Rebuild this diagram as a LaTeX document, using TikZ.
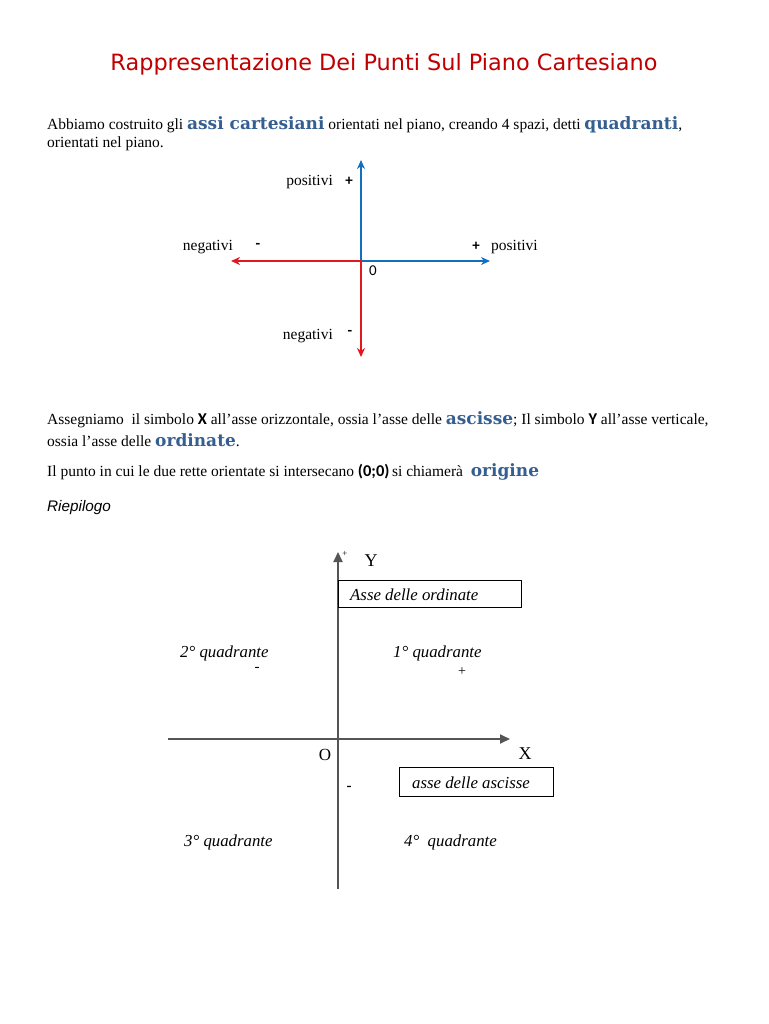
\documentclass[tikz,border=0pt]{standalone}
\usepackage{fontspec}
\setmainfont{Liberation Serif}
\newfontfamily\titlefont{DejaVu Sans}
\newfontfamily\bluefont{DejaVu Serif}
\newfontfamily\calib{Carlito}
\newfontfamily\arialf{Liberation Sans}
\usetikzlibrary{arrows.meta}
\definecolor{titlered}{RGB}{192,0,0}
\definecolor{kwblue}{RGB}{54,95,145}
\definecolor{axblue}{RGB}{20,110,190}
\definecolor{axred}{RGB}{225,25,30}
\definecolor{axgray}{RGB}{85,85,85}
\newcommand\kw[1]{{\bluefont\bfseries\color{kwblue}\fontsize{17}{18}\selectfont #1}}
\newcommand\bsans[1]{{\calib\bfseries\fontsize{16.5}{18}\selectfont #1}}
\begin{document}
\begin{tikzpicture}[x=1pt,y=-1pt,
  txt/.style={anchor=base west, inner sep=0, font=\fontsize{15.5}{18}\selectfont},
  lbl/.style={inner sep=0, font=\fontsize{15.5}{17}\selectfont},
  sgn/.style={inner sep=0, font=\calib\bfseries\fontsize{15}{17}\selectfont},
  itl/.style={inner sep=0, anchor=base west, font=\itshape\fontsize{16.8}{18}\selectfont},
  tipS/.style={-{Stealth[length=9pt,width=8pt]}},
  bluax/.style={draw=axblue, line width=1.7pt, tipS},
  redax/.style={draw=axred, line width=1.7pt, tipS},
  grayax/.style={draw=axgray, line width=1.8pt, -{Triangle[length=10pt,width=9pt]}},
  lbox/.style={draw=black, line width=0.9pt, minimum width=#1, inner sep=0, minimum height=27pt},
]
\useasboundingbox (0,0) rectangle (768,1024);
\fill[white] (0,0) rectangle (768,1024);

% title
\node[inner sep=0, text=titlered, font=\titlefont\fontsize{22.4}{26}\selectfont] (title) at (384,64) {Rappresentazione Dei Punti Sul Piano Cartesiano};

% intro text
\node[txt] (l1) at (47,130) {Abbiamo costruito gli \kw{assi cartesiani} orientati nel piano, creando 4 spazi, detti \kw{quadranti},};
\node[txt] (l2) at (47,148) {orientati nel piano.};

% first diagram
\coordinate (O1) at (361,261);
\coordinate (Yt) at (361,160);
\coordinate (Yb) at (361,357);
\coordinate (Xl) at (231,261);
\coordinate (Xr) at (490,261);
\draw[bluax] (O1) -- (Yt);
\draw[bluax] (O1) -- (Xr);
\draw[redax] (O1) -- (Yb);
\draw[redax] (O1) -- (Xl);

\node[lbl, anchor=base east] (pt) at (333,186) {positivi};
\node[sgn] (pts) at (349,181) {+};
\node[lbl, anchor=base east] (nl) at (233,250) {negativi};
\node[sgn] (nls) at (258,246) {-};
\node[sgn] (prs) at (476,246) {+};
\node[lbl, anchor=base west] (pr) at (491,250) {positivi};
\node[inner sep=0, font=\calib\fontsize{15}{17}\selectfont] (zero) at (373,271) {0};
\node[lbl, anchor=base east] (nb) at (333,339) {negativi};
\node[sgn] (nbs) at (350,333) {-};

% second text block
\node[txt] (p1) at (47,424) {Assegniamo\ \ il simbolo \bsans{X} all'asse orizzontale, ossia l'asse delle \kw{ascisse}; Il simbolo \bsans{Y} all'asse verticale,};
\node[txt] (p2) at (47,446) {ossia l'asse delle \kw{ordinate}.};
\node[txt] (p3) at (47,476) {Il punto in cui le due rette orientate si intersecano \bsans{(0;0)}\,si chiamerà\ \ \kw{origine}};
\node[inner sep=0, anchor=base west, font=\arialf\itshape\fontsize{15.3}{18}\selectfont] (riep) at (47,511) {Riepilogo};

% second diagram
\coordinate (O2) at (338,739);
\coordinate (Y2t) at (338,552);
\coordinate (Y2b) at (338,889);
\coordinate (X2l) at (168,739);
\coordinate (X2r) at (510,739);
\draw[draw=axgray, line width=1.8pt] (Y2b) -- (O2);
\draw[grayax] (O2) -- (Y2t);
\draw[grayax] (X2l) -- (O2) -- (X2r);

\node[inner sep=0, font=\fontsize{9}{10}\selectfont] (yplus) at (345,554) {+};
\node[inner sep=0, font=\fontsize{18}{20}\selectfont] (ylab) at (371,561) {Y};
\node[lbox=183pt, anchor=north west] (box1) at (338,580) {};
\node[itl] (ord) at (350,600) {Asse delle ordinate};

\node[itl] (q2) at (180,657) {2° quadrante};
\node[inner sep=0, font=\fontsize{15}{16}\selectfont] (q2s) at (257,669) {-};
\node[itl] (q1) at (393,657) {1° quadrante};
\node[inner sep=0, font=\fontsize{14}{16}\selectfont] (q1s) at (462,672) {+};

\node[inner sep=0, font=\fontsize{17}{18}\selectfont] (olab) at (325,755) {O};
\node[inner sep=0, font=\fontsize{18}{20}\selectfont] (xlab) at (525,754) {X};
\node[lbox=154pt, minimum height=29pt, anchor=north west] (box2) at (399,767) {};
\node[itl] (asc) at (412,788) {asse delle ascisse};
\node[inner sep=0, font=\bfseries\fontsize{15}{16}\selectfont] (ms) at (349,788) {-};

\node[itl] (q3) at (184,846) {3° quadrante};
\node[itl] (q4) at (404,846) {4°\ \ quadrante};
\end{tikzpicture}
\end{document}
